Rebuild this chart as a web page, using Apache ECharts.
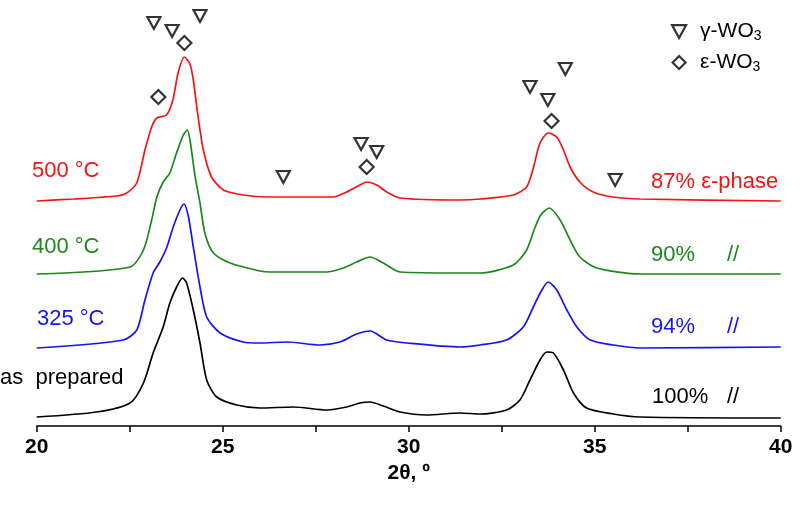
<!DOCTYPE html>
<html><head><meta charset="utf-8">
<script src="https://cdn.jsdelivr.net/npm/echarts/dist/echarts.min.js"></script>
<style>html,body{margin:0;padding:0;background:#fff}#c{width:800px;height:506px}</style>
</head><body><div id="c"></div>
<script>
// 2-theta axis
const xMin = 20, xMax = 40, xStep = 5;
// Stacked (offset) intensity traces, [2theta, intensity a.u.]
const red500 = [[20.0,225],[21.0,227],[22.14,230],[22.42,233],[22.69,243],[22.91,276],[23.09,299],[23.23,308],[23.49,311],[23.66,326],[23.80,353],[23.97,369],[24.12,362],[24.21,346],[24.34,309],[24.48,276],[24.70,249],[25.02,236],[25.55,231],[26.18,229],[26.89,229],[27.97,229],[28.33,234],[28.69,241],[28.87,244],[29.14,241],[29.41,234],[29.77,228],[31.38,226],[31.92,227],[32.81,231],[33.17,239],[33.35,258],[33.53,283],[33.75,293],[33.98,289],[34.16,276],[34.34,259],[34.60,244],[34.96,234],[35.50,229],[36.22,227],[40.0,225]];
const green400 = [[20.0,152],[22.51,159],[22.87,176],[23.09,206],[23.23,229],[23.40,244],[23.58,253],[23.76,273],[23.94,291],[24.05,296],[24.12,286],[24.26,249],[24.39,223],[24.52,193],[24.75,173],[25.20,163],[26.0,155],[26.27,154],[27.8,154],[28.24,158],[28.6,164],[28.96,169],[29.32,163],[29.77,154],[31.38,153],[31.92,153],[32.81,161],[33.17,176],[33.40,199],[33.55,211],[33.78,218],[34.07,206],[34.34,186],[34.60,169],[35.05,158],[36.22,152],[40.0,152]];
const blue325 = [[20.0,78],[22.33,86],[22.69,96],[22.91,126],[23.13,153],[23.31,164],[23.49,178],[23.67,199],[23.85,216],[23.96,222],[24.08,209],[24.21,179],[24.39,139],[24.57,109],[24.93,93],[25.55,84],[26.0,83],[26.72,84],[27.62,81],[28.15,84],[28.6,92],[28.96,95],[29.41,86],[29.95,83],[31.38,79],[31.92,81],[32.63,86],[33.08,99],[33.35,119],[33.58,136],[33.75,144],[33.98,136],[34.25,116],[34.52,99],[34.88,86],[35.50,81],[36.22,78],[40.0,79]];
const blackAsPrep = [[20.0,9],[21.61,14],[22.51,23],[22.87,43],[23.13,73],[23.40,99],[23.58,123],[23.76,139],[23.92,148],[24.03,143],[24.21,116],[24.39,83],[24.57,46],[24.84,29],[25.38,21],[26.0,18],[26.9,19],[27.8,16],[28.33,19],[28.69,23],[28.96,24],[29.32,20],[29.77,14],[30.48,11],[31.38,13],[31.92,12],[32.63,16],[32.99,26],[33.26,46],[33.53,66],[33.71,74],[33.89,73],[34.16,56],[34.43,33],[34.78,18],[35.5,12],[36.22,9],[40.0,8]];
// Reflection markers
const gammaMarks = [[23.15,403],[23.64,395],[24.39,410],[26.63,249],[28.72,282],[29.14,274],[33.26,339],[33.74,326],[34.21,357],[35.55,246]];
const epsMarks = [[23.27,329],[23.97,383],[28.87,259],[33.84,305]];
const seriesNames = ['500 °C','400 °C','325 °C','as prepared'];
const phaseNames = ['γ-WO3','ε-WO3'];

const TRI = 'path://M0,0L12,0L6,11Z';
const DIA = 'path://M6,0L12,6L6,12L0,6Z';
const C = {red:'#f41414', green:'#1a881a', blue:'#1414f4', black:'#000000'};
const F = '"Liberation Sans", Arial, sans-serif';
const FN = '"Liberation Sans Narrow", "Liberation Sans", Arial';

const chart = echarts.init(document.getElementById('c'), null, {renderer:'canvas'});
function line(name, data, color){
  return {name, type:'line', data, showSymbol:false, smooth:0.25, lineStyle:{color, width:1.7}, itemStyle:{color}, z:2, silent:true};
}
function txt(text, x, y, color){
  return {type:'text', left:x, top:y - 12, style:{text, fill:color, font:'22px ' + F}};
}
const markStyle = {color:'#fff', borderColor:'#000', borderWidth:2.2};
chart.setOption({
  animation:false,
  backgroundColor:'#ffffff',
  grid:{left:36.7, right:19.3, top:6, bottom:80},
  xAxis:{type:'value', min:xMin, max:xMax, interval:xStep,
    axisLine:{lineStyle:{color:'#000', width:1.5}},
    axisTick:{length:6, lineStyle:{color:'#000', width:1.5}},
    minorTick:{show:true, splitNumber:2, length:6, lineStyle:{color:'#000', width:1.5}},
    splitLine:{show:false},
    axisLabel:{color:'#000', fontWeight:'bold', fontSize:21, fontFamily:FN, margin:11},
    name:'2θ, º', nameLocation:'middle', nameGap:36,
    nameTextStyle:{color:'#000', fontWeight:'bold', fontSize:21, fontFamily:FN}
  },
  yAxis:{type:'value', min:0, max:420, show:false},
  legend:{
    orient:'vertical', left:666, top:16, itemWidth:14, itemHeight:13, itemGap:9,
    data:[{name:phaseNames[0], icon:TRI},{name:phaseNames[1], icon:DIA}],
    itemStyle:markStyle,
    formatter: n => n === phaseNames[0] ? '{a|γ-WO}{s|3}' : '{a|ε-WO}{s|3}',
    textStyle:{rich:{a:{fontSize:21, fontFamily:F, color:'#000', padding:[0,0,0,9]}, s:{fontSize:14, fontFamily:F, color:'#000', padding:[9,0,0,0]}}}
  },
  series:[
    line(seriesNames[0], red500, C.red),
    line(seriesNames[1], green400, C.green),
    line(seriesNames[2], blue325, C.blue),
    line(seriesNames[3], blackAsPrep, C.black),
    {name:phaseNames[0], type:'scatter', data:gammaMarks, symbol:TRI, symbolSize:[13,12], clip:false, itemStyle:markStyle, z:5},
    {name:phaseNames[1], type:'scatter', data:epsMarks, symbol:DIA, symbolSize:14, clip:false, itemStyle:markStyle, z:5}
  ],
  graphic:[
    txt('500 °C', 32, 172, C.red),
    txt('400 °C', 32, 248, C.green),
    txt('325 °C', 37, 320, C.blue),
    txt('as  prepared', 0, 379, '#000'),
    txt('87% ε-phase', 651, 183, C.red),
    txt('90%', 651, 256, C.green),
    txt('//', 727, 256, C.green),
    txt('94%', 651, 328, C.blue),
    txt('//', 727, 328, C.blue),
    txt('100%', 652, 398, '#000'),
    txt('//', 727, 398, '#000')
  ]
});
</script></body></html>
